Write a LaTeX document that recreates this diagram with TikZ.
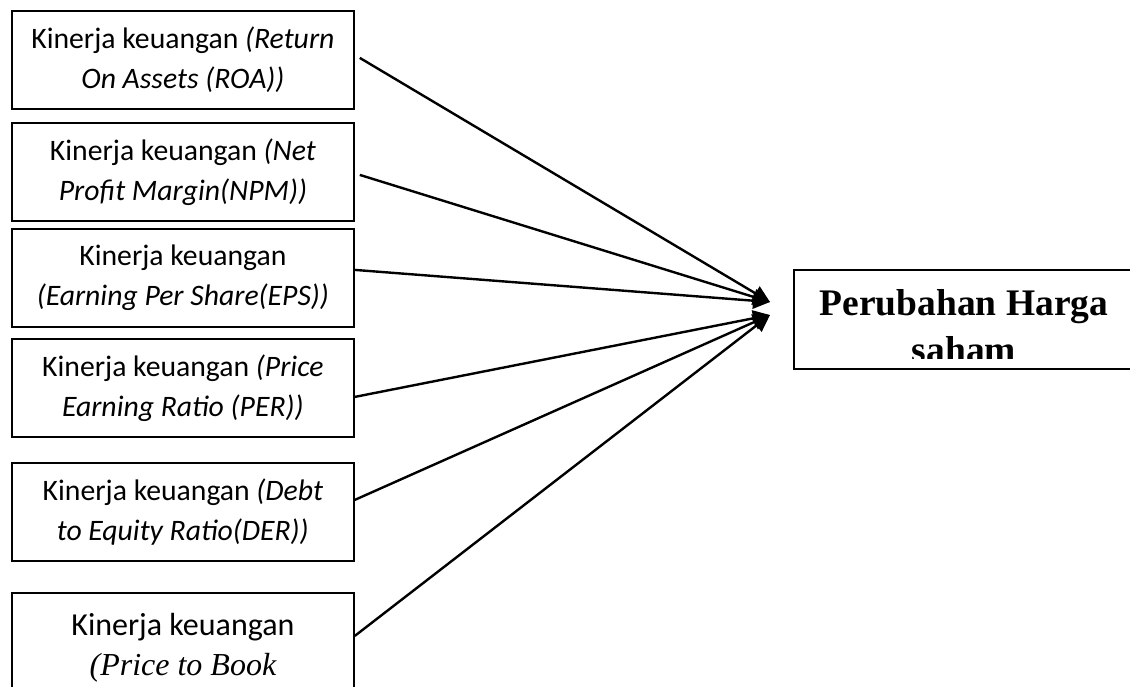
\documentclass[tikz,border=0pt]{standalone}
\usepackage{fontspec}
\setmainfont{Carlito}
\newfontfamily\timesfont{Liberation Serif}
\usetikzlibrary{arrows.meta}

\begin{document}
\begin{tikzpicture}[x=1pt,y=-1pt,
    varbox/.style={draw,line width=1.8pt,anchor=north west,minimum width=342pt,
      minimum height=98pt,align=center,inner sep=0pt,
      font=\fontsize{29.7}{40}\selectfont},
    judulfont/.style={anchor=base,font=\timesfont\bfseries\fontsize{37.5}{51}\selectfont},
    link/.style={line width=2.4pt,-{Triangle[length=17pt,width=16pt]}}]
  \useasboundingbox [fill=white] (0,0) rectangle (1130,686);
  % variabel bebas
  \node [varbox] (roa) at (11,10) {Kinerja keuangan \textit{(Return}\\\textit{On Assets (ROA))}};
  \node [varbox] (npm) at (11,122) {Kinerja keuangan \textit{(Net}\\\textit{Profit Margin(NPM))}};
  \node [varbox] (eps) at (11,228) {Kinerja keuangan\\\textit{(Earning Per Share(EPS))}};
  \node [varbox] (per) at (11,338) {Kinerja keuangan \textit{(Price}\\\textit{Earning Ratio (PER))}};
  \node [varbox] (der) at (11,462) {Kinerja keuangan \textit{(Debt}\\\textit{to Equity Ratio(DER))}};
  \node [varbox,minimum height=110pt,font=\fontsize{32}{40}\selectfont] (pbv) at (11,592)
    {Kinerja keuangan\\{\timesfont\itshape (Price to Book}};
  % variabel terikat
  \node [draw,line width=1.8pt,anchor=north west,minimum width=342pt,minimum height=99pt] (harga) at (793,269) {};
  \begin{scope}
    \clip (793,269) rectangle (1135,358);
    \node [judulfont] (judul) at (964,315) {Perubahan Harga};
    \node [judulfont] (judulb) at (964,362) {saham};
  \end{scope}
  \coordinate (tipA) at (770,302);
  \coordinate (tipB) at (770,315);
  \draw [link] ([xshift=5pt,yshift=2pt]roa.east) -- (tipA);
  \draw [link] ([xshift=5pt,yshift=-3pt]npm.east) -- (tipA);
  \draw [link] ([yshift=8pt]eps.east) -- (tipA);
  \draw [link] ([yshift=-9pt]per.east) -- (tipB);
  \draw [link] ([yshift=12pt]der.east) -- (tipB);
  \draw [link] ([yshift=12pt]pbv.east) -- (tipB);
\end{tikzpicture}
\end{document}
